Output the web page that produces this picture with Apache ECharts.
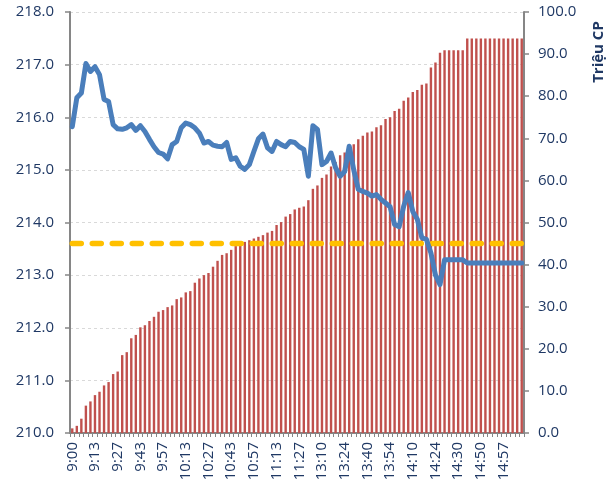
<!DOCTYPE html>
<html>
<head>
<meta charset="utf-8">
<script src="https://cdn.jsdelivr.net/npm/echarts@6/dist/echarts.min.js"></script>
<style>
    html, body { margin: 0; padding: 0; background: #fff; }
    #chart { width: 613px; height: 485px; }
</style>
</head>
<body>
<div id="chart"></div>
<script>
    // thời gian giao dịch (nhãn hiện mỗi 5 mốc)
    const times = [
        '9:00', '9:02', '9:05', '9:08', '9:10', '9:13', '9:15', '9:18', '9:21', '9:24',
        '9:27', '9:30', '9:33', '9:36', '9:40', '9:43', '9:46', '9:48', '9:51', '9:54',
        '9:57', '10:00', '10:03', '10:06', '10:10', '10:13', '10:15', '10:18', '10:21', '10:24',
        '10:27', '10:30', '10:33', '10:36', '10:40', '10:43', '10:46', '10:48', '10:51', '10:54',
        '10:57', '11:00', '11:03', '11:06', '11:10', '11:13', '11:15', '11:18', '11:21', '11:24',
        '11:27', '11:30', '13:01', '13:04', '13:07', '13:10', '13:13', '13:15', '13:18', '13:21',
        '13:24', '13:27', '13:30', '13:34', '13:37', '13:40', '13:43', '13:45', '13:48', '13:51',
        '13:54', '13:57', '14:00', '14:03', '14:06', '14:10', '14:13', '14:15', '14:18', '14:21',
        '14:24', '14:25', '14:26', '14:27', '14:29', '14:30', '14:46', '14:47', '14:48', '14:49',
        '14:50', '14:51', '14:53', '14:54', '14:56', '14:57', '14:58', '14:59', '15:00', '15:01'
    ];

    // giá (trục trái)
    const prices = [
        215.82, 216.37, 216.46, 217.02, 216.87, 216.96, 216.81, 216.34, 216.30, 215.86,
        215.78, 215.77, 215.80, 215.86, 215.75, 215.84, 215.73, 215.58, 215.44, 215.33,
        215.30, 215.21, 215.48, 215.54, 215.80, 215.89, 215.86, 215.80, 215.70, 215.51,
        215.54, 215.47, 215.45, 215.44, 215.52, 215.20, 215.23, 215.07, 215.01, 215.10,
        215.35, 215.59, 215.68, 215.42, 215.35, 215.54, 215.48, 215.44, 215.54, 215.52,
        215.44, 215.39, 214.88, 215.84, 215.77, 215.10, 215.16, 215.32, 215.04, 214.88,
        214.97, 215.45, 215.00, 214.63, 214.59, 214.56, 214.50, 214.53, 214.44, 214.37,
        214.30, 213.96, 213.92, 214.31, 214.57, 214.21, 214.06, 213.71, 213.68, 213.42,
        213.00, 212.82, 213.29, 213.29, 213.29, 213.29, 213.29, 213.23, 213.23, 213.23,
        213.23, 213.23, 213.23, 213.23, 213.23, 213.23, 213.23, 213.23, 213.23, 213.23
    ];

    // khối lượng cộng dồn, triệu CP (trục phải)
    const volumes = [
        1.1, 1.7, 3.4, 6.5, 7.5, 9.0, 9.8, 11.3, 12.1, 14.0,
        14.6, 18.5, 19.2, 22.5, 23.3, 25.1, 25.6, 26.6, 27.6, 28.8,
        29.2, 29.9, 30.3, 31.8, 32.2, 33.4, 33.7, 35.7, 36.7, 37.5,
        38.0, 39.5, 40.9, 42.3, 42.7, 43.5, 44.4, 45.3, 45.4, 45.8,
        46.2, 46.6, 47.0, 47.6, 48.0, 49.4, 50.1, 51.4, 52.0, 53.1,
        53.5, 53.8, 55.3, 58.0, 58.8, 60.6, 61.4, 63.3, 64.4, 66.0,
        66.6, 67.3, 68.6, 69.8, 70.6, 71.4, 71.6, 72.6, 73.1, 74.6,
        75.0, 76.5, 77.0, 78.9, 79.7, 81.0, 81.5, 82.7, 83.0, 86.8,
        88.0, 90.3, 90.9, 90.9, 90.9, 90.9, 90.9, 93.7, 93.7, 93.7,
        93.7, 93.7, 93.7, 93.7, 93.7, 93.7, 93.7, 93.7, 93.7, 93.7
    ];

    const refPrice = 213.6;
    const priceTicks = { min: 210, max: 218, step: 1 };
    const volumeTicks = { min: 0, max: 100, step: 10 };

    const labelColor = '#1f3864';
    const axisGray = '#868686';
    const font = "'Open Sans', 'Liberation Sans', sans-serif";

    const chart = echarts.init(document.getElementById('chart'));
    const option = {
        animation: false,
        grid: {
            left: 70,
            right: 89,
            top: 12,
            bottom: 52
        },
        xAxis: {
            type: 'category',
            data: times,
            boundaryGap: true,
            axisLine: {
                lineStyle: { color: axisGray, width: 2 }
            },
            axisTick: {
                show: true,
                interval: 0,
                length: 4,
                lineStyle: { color: axisGray, width: 1 }
            },
            axisLabel: {
                interval: 4,
                rotate: 90,
                margin: 9,
                color: labelColor,
                fontSize: 15,
                fontFamily: font
            },
            splitLine: { show: false }
        },
        yAxis: [
            {
                type: 'value',
                position: 'left',
                min: priceTicks.min,
                max: priceTicks.max,
                interval: priceTicks.step,
                axisLine: {
                    show: true,
                    lineStyle: { color: axisGray, width: 2 }
                },
                axisTick: {
                    show: true,
                    length: 5,
                    lineStyle: { color: axisGray, width: 1.5 }
                },
                axisLabel: {
                    margin: 16,
                    color: labelColor,
                    fontSize: 15,
                    fontFamily: font,
                    formatter: v => v.toFixed(1)
                },
                splitLine: {
                    show: true,
                    lineStyle: { color: '#d9d9d9', type: [3, 3], width: 1 }
                }
            },
            {
                type: 'value',
                position: 'right',
                min: volumeTicks.min,
                max: volumeTicks.max,
                interval: volumeTicks.step,
                axisLine: {
                    show: true,
                    lineStyle: { color: axisGray, width: 2 }
                },
                axisTick: {
                    show: true,
                    length: 5,
                    lineStyle: { color: axisGray, width: 1.5 }
                },
                axisLabel: {
                    margin: 14,
                    color: labelColor,
                    fontSize: 15,
                    fontFamily: font,
                    formatter: v => v.toFixed(1)
                },
                splitLine: { show: false }
            }
        ],
        graphic: [
            {
                // tên trục phải
                type: 'text',
                x: 599,
                y: 52,
                rotation: Math.PI / 2,
                style: {
                    text: 'Triệu CP',
                    fill: labelColor,
                    font: "bold 15px 'Open Sans', 'Liberation Sans', sans-serif",
                    textAlign: 'center',
                    textVerticalAlign: 'middle'
                }
            }
        ],
        series: [
            {
                name: 'Khối lượng',
                type: 'bar',
                yAxisIndex: 1,
                data: volumes,
                barWidth: 2.4,
                itemStyle: { color: '#c0504d' },
                z: 1
            },
            {
                name: 'Giá tham chiếu',
                type: 'line',
                yAxisIndex: 0,
                data: prices.map(() => refPrice),
                symbol: 'none',
                lineStyle: {
                    color: '#ffc000',
                    width: 5.5,
                    type: [9, 11],
                    cap: 'round'
                },
                z: 2
            },
            {
                name: 'Giá',
                type: 'line',
                yAxisIndex: 0,
                data: prices,
                symbol: 'none',
                lineStyle: {
                    color: '#4a7ebb',
                    width: 5,
                    join: 'round',
                    cap: 'round'
                },
                z: 3
            }
        ]
    };

    chart.setOption(option);
</script>
</body>
</html>
